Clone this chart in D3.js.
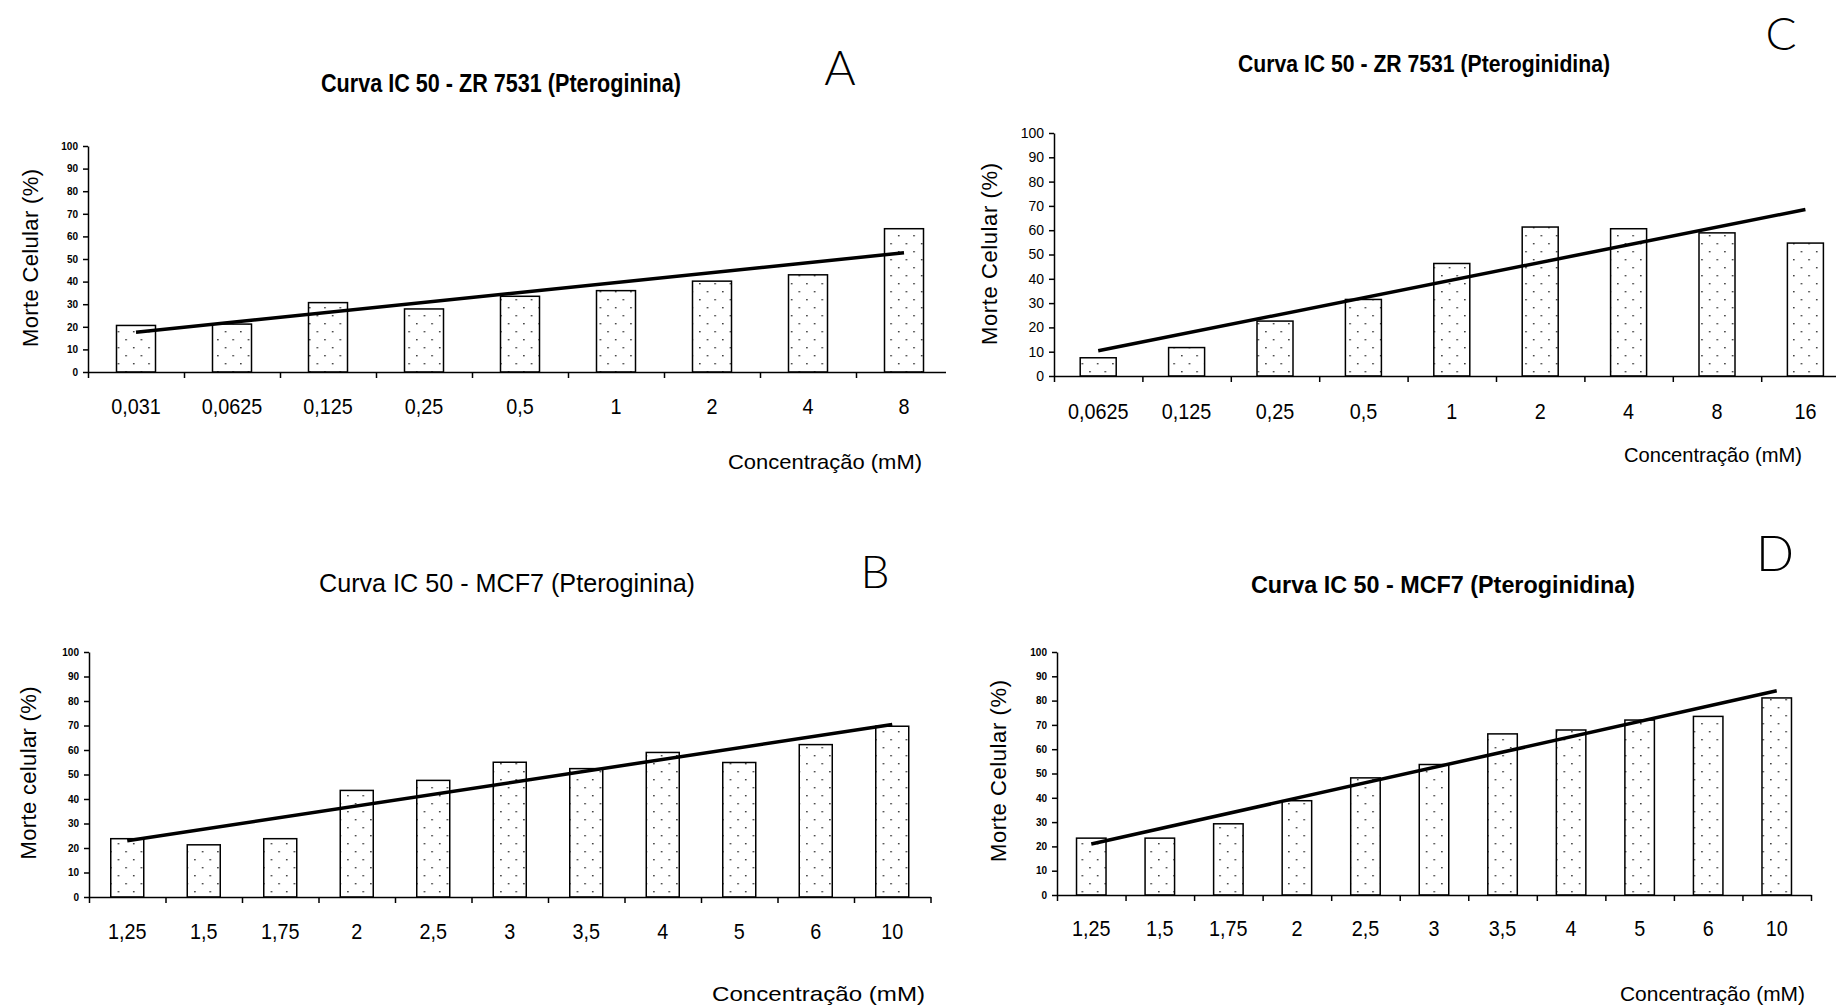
<!DOCTYPE html>
<html>
<head>
<meta charset="utf-8">
<script src="https://cdn.jsdelivr.net/npm/d3@7"></script>
<style>
  body { margin: 0; background: #fff; }
  svg { display: block; }
  text { font-family: 'Liberation Sans', Arial, sans-serif; fill: #000; }
</style>
</head>
<body>
<div id="chart"></div>
<script>
// values: morte celular (%) per concentration (mM)
let catA = ['0,031', '0,0625', '0,125', '0,25', '0,5', '1', '2', '4', '8'];
let valA = [20.6, 21.2, 30.7, 27.9, 33.5, 36.0, 40.2, 43.0, 63.4];

let catC = ['0,0625', '0,125', '0,25', '0,5', '1', '2', '4', '8', '16'];
let valC = [7.5, 11.7, 22.6, 31.5, 46.3, 61.3, 60.6, 58.9, 54.7];

let catB = ['1,25', '1,5', '1,75', '2', '2,5', '3', '3,5', '4', '5', '6', '10'];
let valB = [23.8, 21.3, 23.8, 43.5, 47.6, 55.0, 52.4, 59.0, 54.9, 62.2, 69.7];

let catD = ['1,25', '1,5', '1,75', '2', '2,5', '3', '3,5', '4', '5', '6', '10'];
let valD = [23.4, 23.4, 29.3, 38.8, 48.2, 53.7, 66.3, 67.9, 72.0, 73.5, 81.1];

let yTicks = [0, 10, 20, 30, 40, 50, 60, 70, 80, 90, 100];

let width = 1836
  , height = 1006;

let svg = d3.select('#chart').append('svg').attr('width', width).attr('height', height);
let defs = svg.append('defs');

// dotted fill used by every bar
let pat = defs.append('pattern').attr('id', 'dots')
  .attr('patternUnits', 'userSpaceOnUse').attr('width', 15.3).attr('height', 16);
pat.append('rect').attr('width', 15.3).attr('height', 16).attr('fill', '#fff');
pat.append('rect').attr('x', 3).attr('y', 3).attr('width', 1.4).attr('height', 1.4).attr('fill', '#222');
pat.append('rect').attr('x', 10.65).attr('y', 11).attr('width', 1.4).attr('height', 1.4).attr('fill', '#222');

// linear trendline like excel does it (x = 1..n)
let trend = vals => {
  let n = vals.length, mx = (n + 1) / 2, my = d3.mean(vals);
  let sxy = d3.sum(vals, (v, i) => (i + 1 - mx) * (v - my));
  let sxx = d3.sum(vals, (v, i) => (i + 1 - mx) * (i + 1 - mx));
  let b = sxy / sxx, a = my - b * mx;
  return vals.map((v, i) => a + b * (i + 1));
};

let panels = [
  { id: 'A', cats: catA, vals: valA, left: 88, right: 952, top: 146, bottom: 372, barW: 39, clip: 946,
    title: 'Curva IC 50 - ZR 7531 (Pteroginina)', tx: 501, ty: 92, tSize: 25, tLen: 360, tBold: true,
    lx: 840, ly: 85, lSize: 48,
    yTitle: 'Morte Celular (%)', ytx: 38, yty: 258, ytLen: 178,
    yFont: 10, yBold: true, catY: 414,
    xTitleRight: 922, xTitleY: 469, xtLen: 194 },
  { id: 'C', cats: catC, vals: valC, left: 1054, right: 1849.6, top: 133, bottom: 376, barW: 36,
    title: 'Curva IC 50 - ZR 7531 (Pteroginidina)', tx: 1424, ty: 72, tSize: 23, tLen: 372, tBold: true,
    lx: 1781, ly: 50, lSize: 46,
    yTitle: 'Morte Celular (%)', ytx: 997, yty: 254, ytLen: 182,
    yFont: 14, yBold: false, catY: 419,
    xTitleRight: 1802, xTitleY: 462, xtLen: 178 },
  { id: 'B', cats: catB, vals: valB, left: 89, right: 930.5, top: 652, bottom: 897, barW: 33,
    title: 'Curva IC 50 - MCF7 (Pteroginina)', tx: 507, ty: 592, tSize: 26, tLen: 376, tBold: false,
    lx: 875, ly: 588, lSize: 46,
    yTitle: 'Morte celular (%)', ytx: 36, yty: 773, ytLen: 173,
    yFont: 10, yBold: true, catY: 939,
    xTitleRight: 925, xTitleY: 1001, xtLen: 213 },
  { id: 'D', cats: catD, vals: valD, left: 1057, right: 1811, top: 652, bottom: 895, barW: 29.5,
    title: 'Curva IC 50 - MCF7 (Pteroginidina)', tx: 1443, ty: 593, tSize: 24, tLen: 384, tBold: true,
    lx: 1775, ly: 571, lSize: 50,
    yTitle: 'Morte Celular (%)', ytx: 1006, yty: 771, ytLen: 182,
    yFont: 10, yBold: true, catY: 936,
    xTitleRight: 1805, xTitleY: 1001, xtLen: 185 }
];

function drawPanel(p) {
  let g = svg.append('g').attr('class', 'panel-' + p.id);
  if (p.clip) {
    defs.append('clipPath').attr('id', 'clip-' + p.id).append('rect')
      .attr('x', 0).attr('y', 0).attr('width', p.clip).attr('height', height);
    g.attr('clip-path', 'url(#clip-' + p.id + ')');
  }

  let n = p.cats.length;
  let x = d3.scaleBand().domain(p.cats).range([p.left, p.right]);
  let idx = d3.scaleLinear().domain([0, n]).range([p.left, p.right]);
  let y = d3.scaleLinear().domain([0, 100]).range([p.bottom, p.top]);
  let mid = c => x(c) + x.bandwidth() / 2;

  g.selectAll('rect.bar').data(p.vals).join('rect')
    .attr('class', 'bar')
    .attr('x', (d, i) => mid(p.cats[i]) - p.barW / 2)
    .attr('y', d => y(d))
    .attr('width', p.barW)
    .attr('height', d => y(0) - y(d))
    .attr('fill', 'url(#dots)')
    .attr('stroke', '#000')
    .attr('stroke-width', 1.5);

  let t = trend(p.vals);
  g.append('path').datum([0, n - 1])
    .attr('d', d3.line().x(i => mid(p.cats[i])).y(i => y(t[i])))
    .attr('fill', 'none')
    .attr('stroke', '#000')
    .attr('stroke-width', 3.5);

  let ya = g.append('g').attr('transform', `translate(${p.left},0)`)
    .call(d3.axisLeft(y).tickValues(yTicks).tickSize(5).tickSizeOuter(0).tickPadding(5));
  ya.attr('font-family', null).attr('font-size', null);
  ya.select('.domain').attr('stroke-width', 1.5);
  ya.selectAll('.tick line').attr('stroke-width', 1.5);
  ya.selectAll('.tick text')
    .style('font-size', p.yFont + 'px')
    .style('font-weight', p.yBold ? 'bold' : 'normal');

  // ticks sit on the category boundaries
  let xa = g.append('g').attr('transform', `translate(0,${p.bottom})`)
    .call(d3.axisBottom(idx).tickValues(d3.range(n + 1)).tickSize(6).tickSizeOuter(0).tickFormat(''));
  xa.select('.domain').attr('stroke-width', 1.5);
  xa.selectAll('.tick line').attr('stroke-width', 1.5);

  g.selectAll('text.cat').data(p.cats).join('text')
    .attr('class', 'cat')
    .attr('transform', c => `translate(${mid(c)},${p.catY}) scale(0.9,1)`)
    .attr('text-anchor', 'middle')
    .style('font-size', '22px')
    .text(c => c);

  svg.append('text')
    .attr('x', p.tx).attr('y', p.ty)
    .attr('text-anchor', 'middle')
    .attr('textLength', p.tLen).attr('lengthAdjust', 'spacingAndGlyphs')
    .style('font-size', p.tSize + 'px')
    .style('font-weight', p.tBold ? 'bold' : 'normal')
    .text(p.title);

  svg.append('text')
    .attr('x', p.lx).attr('y', p.ly)
    .attr('text-anchor', 'middle')
    .style('font-family', "Lato, Inter, 'Open Sans', sans-serif")
    .style('font-weight', 300)
    .style('font-size', p.lSize + 'px')
    .text(p.id);

  svg.append('text')
    .attr('transform', `translate(${p.ytx},${p.yty}) rotate(-90)`)
    .attr('text-anchor', 'middle')
    .attr('textLength', p.ytLen).attr('lengthAdjust', 'spacing')
    .style('font-size', '22px')
    .text(p.yTitle);

  svg.append('text')
    .attr('x', p.xTitleRight).attr('y', p.xTitleY)
    .attr('text-anchor', 'end')
    .attr('textLength', p.xtLen).attr('lengthAdjust', 'spacingAndGlyphs')
    .style('font-size', '21px')
    .text('Concentração (mM)');
}

panels.forEach(drawPanel);
</script>
</body>
</html>
